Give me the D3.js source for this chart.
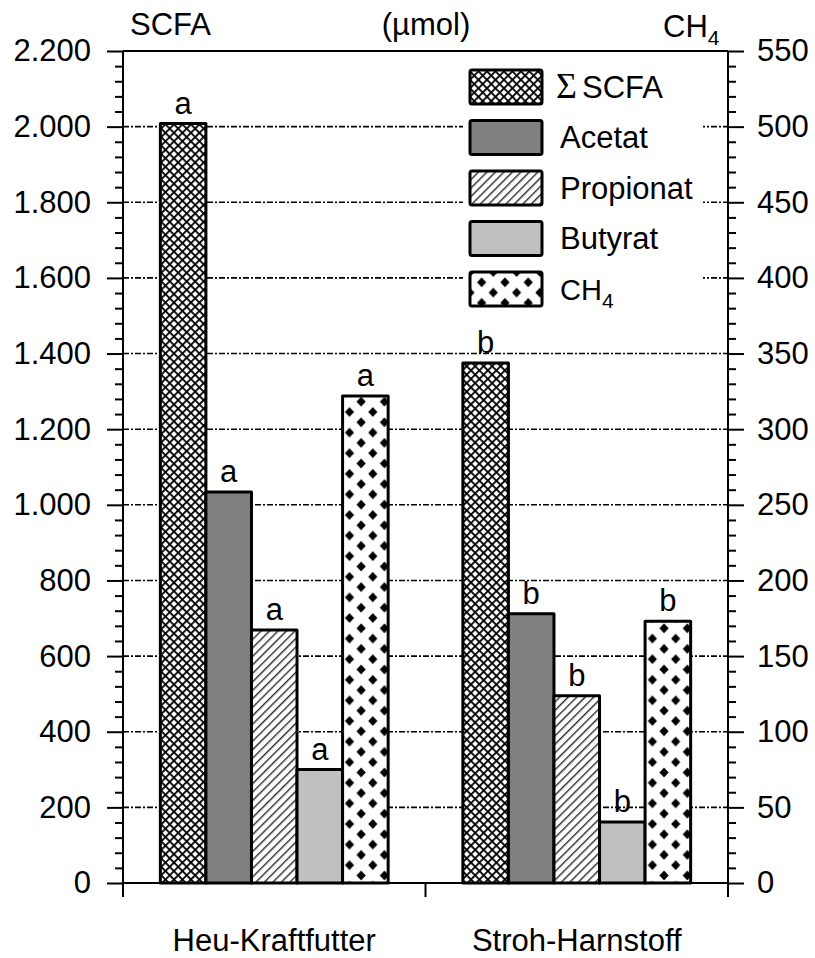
<!DOCTYPE html>
<html>
<head>
<meta charset="utf-8">
<script src="https://cdn.jsdelivr.net/npm/d3@7"></script>
<style>
  body { margin: 0; background: #fff; }
  svg { display: block; }
  text { font-family: "Liberation Sans", Arial, sans-serif; fill: #000; }
</style>
</head>
<body>
<svg id="chart" width="815" height="958"></svg>
<script>
// ---- data -------------------------------------------------------------
const categories = ["Heu-Kraftfutter", "Stroh-Harnstoff"];
const seriesKeys = ["scfa", "acetat", "propionat", "butyrat", "ch4"];
const seriesLabels = ["SCFA", "Acetat", "Propionat", "Butyrat", "CH4"];
const scfaValues = [2008, 1375];      // Σ SCFA, µmol (left axis)
const acetatValues = [1034, 712];     // µmol (left axis)
const propionatValues = [669, 495];   // µmol (left axis)
const butyratValues = [300, 161];     // µmol (left axis)
const ch4Values = [322, 173];         // µmol (right axis)
const letters = [["a", "a", "a", "a", "a"], ["b", "b", "b", "b", "b"]];
const leftTicks = d3.range(0, 2201, 200);
const leftMinor = d3.range(0, 2201, 40);
const rightTicks = d3.range(0, 551, 50);
const rightMinor = d3.range(0, 551, 10);

const valuesBySeries = {
  scfa: scfaValues, acetat: acetatValues, propionat: propionatValues,
  butyrat: butyratValues, ch4: ch4Values
};

// ---- layout -----------------------------------------------------------
const svg = d3.select("#chart");
const plotLeft = 123, plotRight = 728, plotTop = 51, plotBottom = 883;
const FS = 31;

const de = d3.formatLocale({ decimal: ",", thousands: ".", grouping: [3], currency: ["", " €"] });
const fmt = de.format(",");

const x = d3.scaleBand().domain(categories).range([plotLeft, plotRight]).paddingInner(0).paddingOuter(0);
const xs = d3.scaleBand().domain(seriesKeys).range([0, x.bandwidth()]).paddingInner(0).paddingOuter(0.82);
const y = d3.scaleLinear().domain([0, 2200]).range([plotBottom, plotTop]);
const y2 = d3.scaleLinear().domain([0, 550]).range([plotBottom, plotTop]);
const scaleFor = k => (k === "ch4" ? y2 : y);

// ---- fill patterns ----------------------------------------------------
const defs = svg.append("defs");

const cross = defs.append("pattern").attr("id", "pat-scfa")
  .attr("patternUnits", "userSpaceOnUse").attr("width", 6).attr("height", 6)
  .attr("patternTransform", "rotate(45)");
cross.append("rect").attr("width", 6).attr("height", 6).attr("fill", "#fff");
cross.append("rect").attr("width", 6).attr("height", 1.8).attr("fill", "#000");
cross.append("rect").attr("width", 1.8).attr("height", 6).attr("fill", "#000");

const diag = defs.append("pattern").attr("id", "pat-propionat")
  .attr("patternUnits", "userSpaceOnUse").attr("width", 6).attr("height", 6)
  .attr("patternTransform", "rotate(45)");
diag.append("rect").attr("width", 6).attr("height", 6).attr("fill", "#fff");
diag.append("rect").attr("width", 1.4).attr("height", 6).attr("fill", "#2a2a2a");

const dia = defs.append("pattern").attr("id", "pat-ch4")
  .attr("patternUnits", "userSpaceOnUse").attr("width", 23.3).attr("height", 20.6);
dia.append("rect").attr("width", 23.3).attr("height", 20.6).attr("fill", "#fff");
const diamond = (cx, cy) => `M${cx},${cy - 5}L${cx + 4.6},${cy}L${cx},${cy + 5}L${cx - 4.6},${cy}Z`;
dia.append("path").attr("fill", "#000")
  .attr("d", [diamond(0, 0), diamond(23.3, 0), diamond(0, 20.6), diamond(23.3, 20.6), diamond(11.65, 10.3)].join(""));

const fills = {
  scfa: "url(#pat-scfa)", acetat: "#808080", propionat: "url(#pat-propionat)",
  butyrat: "#c0c0c0", ch4: "url(#pat-ch4)"
};

// ---- grid lines -------------------------------------------------------
svg.append("g").selectAll("line")
  .data(leftTicks.filter(t => t > 0 && t < 2200))
  .join("line")
  .attr("x1", plotLeft).attr("x2", plotRight)
  .attr("y1", d => y(d)).attr("y2", d => y(d))
  .attr("stroke", "#000").attr("stroke-width", 1.6)
  .attr("stroke-dasharray", "6,2,2,2");

// ---- legend -----------------------------------------------------------
const legend = svg.append("g");
legend.append("rect").attr("x", 463).attr("y", 58).attr("width", 240).attr("height", 260).attr("fill", "#fff");
const rows = legend.selectAll("g.row").data(seriesKeys).join("g")
  .attr("class", "row")
  .attr("transform", (d, i) => `translate(470,${70 + i * 50.5})`);
rows.append("rect").attr("width", 72).attr("height", 34).attr("rx", 2)
  .attr("fill", d => fills[d]).attr("stroke", "#000").attr("stroke-width", 3);
rows.each(function (d, i) {
  const g = d3.select(this);
  const t = g.append("text").attr("x", 90).attr("y", 17).attr("dy", "0.35em").attr("font-size", FS);
  if (d === "scfa") {
    t.attr("x", 86);
    t.append("tspan").attr("font-family", "Liberation Serif, serif").attr("font-size", 36).text("Σ");
    t.append("tspan").attr("dx", 5).text(seriesLabels[i]);
  } else if (d === "ch4") {
    t.append("tspan").attr("font-size", 29).text("CH");
    t.append("tspan").attr("font-size", 21).attr("dy", 8).text("4");
  } else {
    t.text(seriesLabels[i]);
  }
});

// ---- bars -------------------------------------------------------------
const barData = [];
categories.forEach((c, ci) => {
  seriesKeys.forEach((k, si) => {
    barData.push({ c, k, v: valuesBySeries[k][ci], letter: letters[ci][si] });
  });
});

svg.append("g").selectAll("rect")
  .data(barData)
  .join("rect")
  .attr("x", d => x(d.c) + xs(d.k))
  .attr("width", xs.bandwidth())
  .attr("y", d => scaleFor(d.k)(d.v))
  .attr("height", d => plotBottom - scaleFor(d.k)(d.v))
  .attr("fill", d => fills[d.k])
  .attr("stroke", "#000").attr("stroke-width", 3)
  .attr("stroke-linejoin", "round");

svg.append("g").selectAll("text")
  .data(barData)
  .join("text")
  .attr("x", d => x(d.c) + xs(d.k) + xs.bandwidth() / 2)
  .attr("y", d => scaleFor(d.k)(d.v) - 10)
  .attr("text-anchor", "middle").attr("font-size", FS)
  .text(d => d.letter);

// ---- axes -------------------------------------------------------------
function styleAxis(g) {
  g.select(".domain").remove();
  g.selectAll(".tick line").attr("stroke", "#000").attr("stroke-width", 2);
  g.selectAll("text").attr("font-size", FS).attr("fill", "#000")
    .attr("font-family", "Liberation Sans, Arial, sans-serif");
}

svg.append("g").attr("transform", `translate(${plotLeft},0)`)
  .call(d3.axisLeft(y).tickValues(leftMinor.filter(v => v % 200)).tickSize(8).tickFormat(""))
  .call(styleAxis);
svg.append("g").attr("transform", `translate(${plotLeft},0)`)
  .call(d3.axisLeft(y).tickValues(leftTicks).tickSize(16).tickPadding(16).tickFormat(fmt))
  .call(styleAxis);

svg.append("g").attr("transform", `translate(${plotRight},0)`)
  .call(d3.axisRight(y2).tickValues(rightMinor.filter(v => v % 50)).tickSize(8).tickFormat(""))
  .call(styleAxis);
svg.append("g").attr("transform", `translate(${plotRight},0)`)
  .call(d3.axisRight(y2).tickValues(rightTicks).tickSize(16).tickPadding(13).tickFormat(d3.format("d")))
  .call(styleAxis);

// frame: left, right, top and baseline
const frame = svg.append("g").attr("stroke", "#000").attr("stroke-width", 2);
frame.append("line").attr("x1", plotLeft).attr("x2", plotLeft).attr("y1", plotTop).attr("y2", plotBottom);
frame.append("line").attr("x1", plotRight).attr("x2", plotRight).attr("y1", plotTop).attr("y2", plotBottom);
frame.append("line").attr("x1", plotLeft).attr("x2", plotRight).attr("y1", plotTop).attr("y2", plotTop);
frame.append("line").attr("x1", plotLeft).attr("x2", plotRight).attr("y1", plotBottom).attr("y2", plotBottom);

// category separators below the baseline
const bounds = [plotLeft].concat(categories.map(c => x(c) + x.bandwidth()));
frame.selectAll("line.sep").data(bounds).join("line").attr("class", "sep")
  .attr("x1", d => d).attr("x2", d => d).attr("y1", plotBottom).attr("y2", plotBottom + 14);

svg.append("g").selectAll("text")
  .data(categories)
  .join("text")
  .attr("x", d => x(d) + x.bandwidth() / 2)
  .attr("y", 951)
  .attr("text-anchor", "middle").attr("font-size", FS)
  .text(d => d);

// ---- axis titles ------------------------------------------------------
svg.append("text").attr("x", 130).attr("y", 35).attr("font-size", FS).text("SCFA");
svg.append("text").attr("x", 426).attr("y", 35).attr("text-anchor", "middle").attr("font-size", FS).text("(µmol)");
const ch4Title = svg.append("text").attr("x", 663).attr("y", 37).attr("font-size", FS);
ch4Title.append("tspan").text("CH");
ch4Title.append("tspan").attr("font-size", 21).attr("dy", 8).text("4");
</script>
</body>
</html>
